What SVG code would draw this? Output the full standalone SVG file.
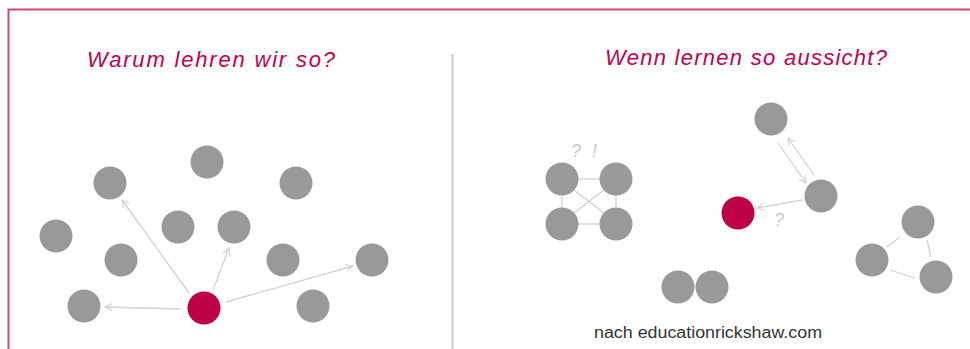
<svg xmlns="http://www.w3.org/2000/svg" width="970" height="349" viewBox="0 0 970 349">
<defs>
<style>
.node{fill:#999999}
.me{fill:#be0046}
.title{font-family:"Liberation Sans",Arial,sans-serif;font-style:italic;font-size:22px;fill:#c4004c}
.link{stroke:#d2d2d2;stroke-width:1.3;fill:none}
.arr{stroke:#d2d2d2;stroke-width:1.3;fill:none;marker-end:url(#ah)}
.note{font-family:"Liberation Sans",Arial,sans-serif;font-style:italic;font-size:18px;fill:#c8c8c8}
</style>
<marker id="ah" viewBox="0 0 10 10" refX="9" refY="5" markerWidth="9" markerHeight="9" markerUnits="userSpaceOnUse" orient="auto">
<path d="M1,1 L9,5 L1,9" fill="none" stroke="#d2d2d2" stroke-width="1.3"/>
</marker>
</defs>
<rect width="970" height="349" fill="#ffffff"/>
<path d="M8.5,349 V9.5 H970" fill="none" stroke="#d2457a" stroke-width="2"/>
<line x1="452.5" y1="54" x2="452.5" y2="349" stroke="#c8c8c8" stroke-width="2"/>
<text class="title" x="87" y="67" textLength="248" lengthAdjust="spacing">Warum lehren wir so?</text>
<text class="title" x="605" y="65" textLength="282" lengthAdjust="spacing">Wenn lernen so aussicht?</text>

<g id="connectors">
<line class="arr" x1="189" y1="293" x2="122" y2="200"/>
<line class="arr" x1="213" y1="290" x2="229" y2="248"/>
<line class="arr" x1="180" y1="309" x2="105" y2="307"/>
<line class="arr" x1="226" y1="302" x2="353" y2="266"/>
<line class="link" x1="578" y1="179" x2="600" y2="179"/>
<line class="link" x1="578" y1="224" x2="600" y2="224"/>
<line class="link" x1="562" y1="195" x2="562" y2="208"/>
<line class="link" x1="616" y1="195" x2="616" y2="208"/>
<line class="link" x1="574" y1="190" x2="604" y2="213"/>
<line class="link" x1="604" y1="190" x2="574" y2="213"/>
<line class="arr" x1="778" y1="143" x2="806" y2="183"/>
<line class="arr" x1="814" y1="175" x2="788" y2="138"/>
<line class="arr" x1="802" y1="200" x2="757" y2="208"/>
<line class="link" x1="900" y1="237" x2="887" y2="247"/>
<line class="link" x1="927" y1="240" x2="931" y2="257"/>
<line class="link" x1="890" y1="270" x2="915" y2="278"/>
</g>
<text class="note" x="571" y="157">?</text>
<text class="note" x="592" y="157">!</text>
<text class="note" x="774" y="226">?</text>

<g id="n1"><circle class="node" cx="207" cy="162" r="16.5"/></g>
<g id="n2"><circle class="node" cx="110" cy="183" r="16.5"/></g>
<g id="n3"><circle class="node" cx="296" cy="183" r="16.5"/></g>
<g id="n4"><circle class="node" cx="56" cy="236" r="16.5"/></g>
<g id="n5"><circle class="node" cx="178" cy="227" r="16.5"/></g>
<g id="n6"><circle class="node" cx="234" cy="227" r="16.5"/></g>
<g id="n7"><circle class="node" cx="121" cy="260" r="16.5"/></g>
<g id="n8"><circle class="node" cx="283" cy="260" r="16.5"/></g>
<g id="n9"><circle class="node" cx="372" cy="260" r="16.5"/></g>
<g id="n10"><circle class="node" cx="84" cy="306" r="16.5"/></g>
<g id="n11"><circle class="node" cx="313" cy="306" r="16.5"/></g>
<g id="red-left"><circle class="me" cx="204" cy="308" r="16.5"/></g>

<g id="r1"><circle class="node" cx="771" cy="119" r="16.5"/></g>
<g id="r2"><circle class="node" cx="821" cy="196" r="16.5"/></g>
<g id="red-right"><circle class="me" cx="738" cy="213" r="16.5"/></g>
<g id="sq1"><circle class="node" cx="562" cy="179" r="16.5"/></g>
<g id="sq2"><circle class="node" cx="616" cy="179" r="16.5"/></g>
<g id="sq3"><circle class="node" cx="562" cy="224" r="16.5"/></g>
<g id="sq4"><circle class="node" cx="616" cy="224" r="16.5"/></g>
<g id="t1"><circle class="node" cx="918" cy="222" r="16.5"/></g>
<g id="t2"><circle class="node" cx="872" cy="260" r="16.5"/></g>
<g id="t3"><circle class="node" cx="936" cy="277" r="16.5"/></g>
<g id="p1"><circle class="node" cx="678" cy="287" r="16.5"/></g>
<g id="p2"><circle class="node" cx="712" cy="287" r="16.5"/></g>

<text x="594" y="338" font-family="'Liberation Sans',Arial,sans-serif" font-size="16" fill="#333333" textLength="228" lengthAdjust="spacingAndGlyphs">nach educationrickshaw.com</text>
</svg>
